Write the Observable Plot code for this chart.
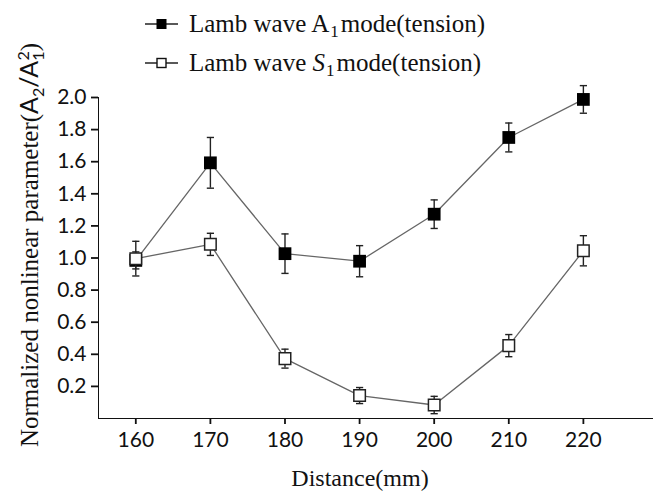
<!DOCTYPE html>
<html>
<head>
<meta charset="utf-8">
<script src="https://cdn.jsdelivr.net/npm/d3@7"></script>
<script src="https://cdn.jsdelivr.net/npm/@observablehq/plot@0.6"></script>
<style>
  html, body { margin: 0; padding: 0; background: #fff; }
  #wrap { position: relative; width: 653px; height: 491px; overflow: hidden; }
  #chart svg { overflow: visible; }
  .legend-row { position: absolute; left: 145px; height: 25px; display: flex; align-items: center;
    font-family: "Liberation Serif", "Times New Roman", serif; font-size: 25px; line-height: 25px; color: #111; white-space: nowrap; }
  .legend-row svg { margin-right: 11px; flex: none; }
  .legend-row sub { font-size: 0.68em; vertical-align: -0.28em; line-height: 0; margin-left: 1px; margin-right: 2px; }
</style>
</head>
<body>
<div id="wrap">
  <div id="chart"></div>
  <div class="legend-row" style="top:11px">
    <svg width="33" height="12"><line x1="0" y1="6" x2="33" y2="6" stroke="#222" stroke-width="1.3"/><rect x="11.5" y="1" width="10" height="10" fill="#000"/></svg>
    <span>Lamb wave A<sub>1</sub>mode(tension)</span>
  </div>
  <div class="legend-row" style="top:50px">
    <svg width="33" height="12"><line x1="0" y1="6" x2="33" y2="6" stroke="#222" stroke-width="1.3"/><rect x="12" y="1.5" width="9" height="9" fill="#fff" stroke="#111" stroke-width="1.4"/></svg>
    <span>Lamb wave <i>S</i><sub>1</sub>mode(tension)</span>
  </div>
</div>
<script>
// ---- data ----
const distances = [160, 170, 180, 190, 200, 210, 220];
const a1Values  = [0.985, 1.593, 1.027, 0.980, 1.273, 1.751, 1.988];
const a1Errors  = [0.053, 0.158, 0.123, 0.097, 0.089, 0.090, 0.086];
const s1Values  = [0.996, 1.085, 0.373, 0.143, 0.084, 0.454, 1.045];
const s1Errors  = [0.108, 0.069, 0.059, 0.050, 0.054, 0.069, 0.094];
const xTicks = [160, 170, 180, 190, 200, 210, 220];
const yTicks = [0.2, 0.4, 0.6, 0.8, 1.0, 1.2, 1.4, 1.6, 1.8, 2.0];
const xLabel = "Distance(mm)";
const yLabel = "Normalized nonlinear parameter(A2/A12)";

const toRows = (vals, errs) => distances.map((x, i) => ({x, y: vals[i], lo: vals[i] - errs[i], hi: vals[i] + errs[i]}));
const rowsA = toRows(a1Values, a1Errors);
const rowsS = toRows(s1Values, s1Errors);

const cap = {draw(ctx, size) { const r = Math.sqrt(size / Math.PI); ctx.moveTo(-r, 0); ctx.lineTo(r, 0); }};

function errorMarks(rows) {
  return [
    Plot.ruleX(rows, {x: "x", y1: "lo", y2: "hi", stroke: "#222", strokeWidth: 1.4}),
    Plot.dot(rows, {x: "x", y: "lo", symbol: cap, r: 3.6, fill: "none", stroke: "#222", strokeWidth: 1.4}),
    Plot.dot(rows, {x: "x", y: "hi", symbol: cap, r: 3.6, fill: "none", stroke: "#222", strokeWidth: 1.4})
  ];
}

const chart = Plot.plot({
  width: 653,
  height: 491,
  marginLeft: 98,
  marginRight: 0,
  marginTop: 97,
  marginBottom: 73,
  style: {fontFamily: "Lato, 'Open Sans', sans-serif", fontSize: "21px", color: "#111", background: "transparent"},
  x: {domain: [155, 229.4], ticks: xTicks, tickFormat: "d", tickSize: 6, tickPadding: 8, label: null, line: true},
  y: {domain: [0, 2], ticks: yTicks, tickFormat: ".1f", tickSize: 7, tickPadding: 5, label: null, line: true},
  marks: [
    Plot.line(rowsA, {x: "x", y: "y", stroke: "#666", strokeWidth: 1.3}),
    Plot.line(rowsS, {x: "x", y: "y", stroke: "#666", strokeWidth: 1.3}),
    ...errorMarks(rowsA),
    Plot.dot(rowsA, {x: "x", y: "y", symbol: "square", r: 7.2, fill: "#000", stroke: "none"}),
    ...errorMarks(rowsS),
    Plot.dot(rowsS, {x: "x", y: "y", symbol: "square", r: 6.5, fill: "#fff", stroke: "#222", strokeWidth: 1.5}),
    Plot.text([yLabel], {frameAnchor: "left", rotate: -90, dx: -61, dy: -13, textAnchor: "middle", lineAnchor: "bottom",
      fontSize: 25, fontFamily: "Liberation Serif", fill: "#111"}),
    Plot.text([xLabel], {frameAnchor: "bottom", dx: -16, dy: 67, textAnchor: "middle", lineAnchor: "bottom",
      fontSize: 24, fontFamily: "Liberation Serif", fill: "#111"})
  ]
});
document.getElementById("chart").appendChild(chart);

// thicker axis lines & ticks
d3.select(chart).selectAll("[aria-label$='axis'] path, [aria-label$='axis'] line, [aria-label*='tick'] path, [aria-label*='domain'] path, [aria-label*='domain'] line")
  .attr("stroke-width", 1.8).attr("stroke", "#111");

// rich y label: sub/superscripts
d3.select(chart).selectAll("text").filter(function() { return this.textContent === yLabel; }).each(function() {
  const t = d3.select(this);
  t.text(null);
  t.append("tspan").attr("font-family", "Liberation Serif").text("Normalized nonlinear parameter(");
  t.append("tspan").attr("font-family", "Lato").text("A");
  t.append("tspan").attr("font-family", "Lato").attr("font-size", 16).attr("dy", 6).text("2");
  t.append("tspan").attr("font-family", "Lato").attr("font-size", 25).attr("dy", -6).text("/A");
  t.append("tspan").attr("font-family", "Lato").attr("font-size", 16).attr("dy", 6).text("1");
  t.append("tspan").attr("font-family", "Lato").attr("font-size", 16).attr("dx", -9).attr("dy", -15).text("2");
  t.append("tspan").attr("font-family", "Liberation Serif").attr("font-size", 25).attr("dy", 9).text(")");
});
</script>
</body>
</html>
